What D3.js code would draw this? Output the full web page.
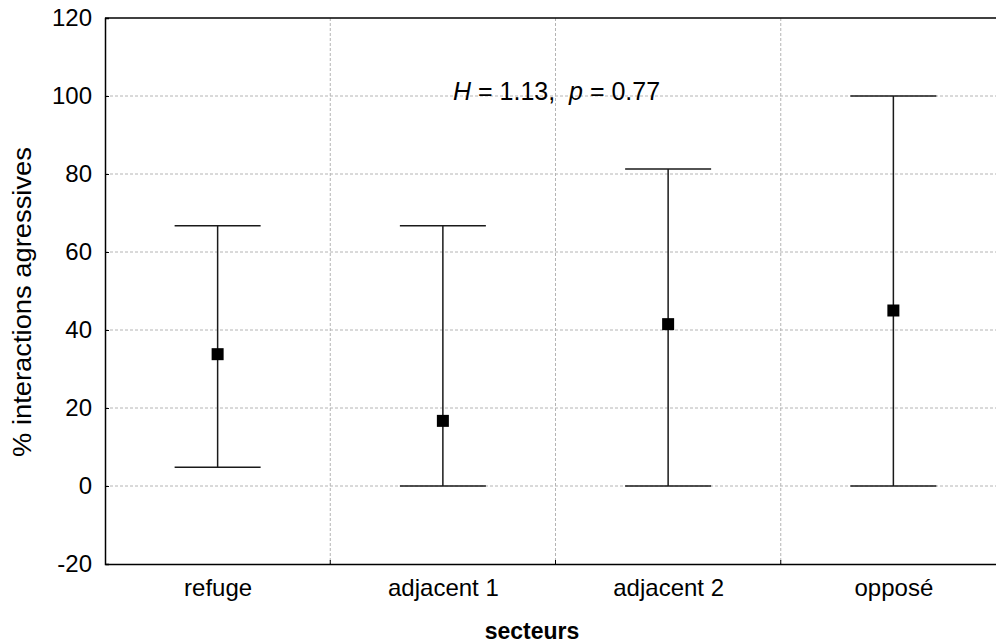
<!DOCTYPE html>
<html><head><meta charset="utf-8">
<script src="https://cdn.jsdelivr.net/npm/d3@7"></script>
<style>body{margin:0;background:#fff}svg{display:block}text{font-family:"Liberation Sans",Arial,sans-serif}</style>
</head><body><svg id="c" width="996" height="644"></svg>
<script>
const categories = ["refuge", "adjacent 1", "adjacent 2", "opposé"];
const means = [33.8, 16.7, 41.5, 45.0];
const lowers = [4.8, 0, 0, 0];
const uppers = [66.7, 66.7, 81.3, 100];
const yTicks = [-20, 0, 20, 40, 60, 80, 100, 120];
const gridY = [0, 20, 40, 60, 80, 100];
const gridX = [1.5, 2.5, 3.5];

const FONT = "Liberation Sans, Arial, sans-serif";
const svg = d3.select("#c");
const x = d3.scaleLinear().domain([0.5, 4.5]).range([105, 1006]);
const y = d3.scaleLinear().domain([-20, 120]).range([564, 18]);
const g = svg.append("g");

// grid
g.selectAll(".gy").data(gridY).join("line")
  .attr("x1", x(0.5)).attr("x2", x(4.5)).attr("y1", d => y(d)).attr("y2", d => y(d))
  .attr("stroke", "#b4b4b4").attr("stroke-dasharray", "3,2").attr("stroke-width", 1);
g.selectAll(".gx").data(gridX).join("line")
  .attr("x1", d => x(d)).attr("x2", d => x(d)).attr("y1", y(120)).attr("y2", y(-20))
  .attr("stroke", "#b4b4b4").attr("stroke-dasharray", "3,2").attr("stroke-width", 1);

// axes
const yAxis = d3.axisLeft(y).tickValues(yTicks).tickSize(-4).tickPadding(13).tickFormat(d => String(d));
const ya = svg.append("g").attr("transform", `translate(${x(0.5)},0)`).call(yAxis);
ya.attr("font-size", null).attr("font-family", null);
ya.select(".domain").attr("stroke", "#000").attr("stroke-width", 1.5);
ya.selectAll(".tick line").attr("stroke", "#000");
ya.selectAll("text").attr("font-size", 24).attr("fill", "#000").style("font-family", FONT);

const xAxis = d3.axisBottom(x).tickValues([1, 2, 3, 4]).tickSize(0).tickPadding(15)
  .tickFormat((d, i) => categories[i]);
const xa = svg.append("g").attr("transform", `translate(0,${y(-20)})`).call(xAxis);
xa.attr("font-size", null).attr("font-family", null);
xa.select(".domain").attr("stroke", "#000").attr("stroke-width", 1.5);
xa.selectAll("text").attr("font-size", 24).attr("fill", "#000").style("font-family", FONT);
xa.selectAll(".mt").data(gridX).join("line")
  .attr("x1", d => x(d)).attr("x2", d => x(d)).attr("y1", 0).attr("y2", -4).attr("stroke", "#000");

// top border
svg.append("line").attr("x1", x(0.5)).attr("x2", x(4.5)).attr("y1", y(120)).attr("y2", y(120))
  .attr("stroke", "#000").attr("stroke-width", 1.5);

// error bars
const data = categories.map((c, i) => ({i: i + 1, m: means[i], lo: lowers[i], hi: uppers[i]}));
const capW = 43;
const eb = svg.append("g");
eb.selectAll(".v").data(data).join("line")
  .attr("x1", d => x(d.i)).attr("x2", d => x(d.i)).attr("y1", d => y(d.lo)).attr("y2", d => y(d.hi))
  .attr("stroke", "#1a1a1a").attr("stroke-width", 1.5);
eb.selectAll(".t").data(data).join("line")
  .attr("x1", d => x(d.i) - capW).attr("x2", d => x(d.i) + capW).attr("y1", d => y(d.hi)).attr("y2", d => y(d.hi))
  .attr("stroke", "#1a1a1a").attr("stroke-width", 1.5);
eb.selectAll(".b").data(data).join("line")
  .attr("x1", d => x(d.i) - capW).attr("x2", d => x(d.i) + capW).attr("y1", d => y(d.lo)).attr("y2", d => y(d.lo))
  .attr("stroke", "#1a1a1a").attr("stroke-width", 1.5);
eb.selectAll("rect").data(data).join("rect")
  .attr("x", d => x(d.i) - 6).attr("y", d => y(d.m) - 6).attr("width", 12).attr("height", 12).attr("fill", "#000");

// annotation
const ann = svg.append("text").attr("x", 453).attr("y", 100).attr("font-size", 25).attr("fill", "#000")
  .style("white-space", "pre").attr("xml:space", "preserve");
ann.append("tspan").attr("font-style", "italic").text("H");
ann.append("tspan").text(" = 1.13,  ");
ann.append("tspan").attr("font-style", "italic").text("p");
ann.append("tspan").text(" = 0.77");

// axis titles
svg.append("text").attr("transform", `translate(31,302) rotate(-90)`).attr("text-anchor", "middle")
  .attr("font-size", 25).attr("fill", "#000").attr("textLength", 310).attr("lengthAdjust", "spacingAndGlyphs")
  .text("% interactions agressives");
svg.append("text").attr("x", 532).attr("y", 639).attr("text-anchor", "middle")
  .attr("font-size", 23).attr("font-weight", "bold").attr("fill", "#000").text("secteurs");
</script></body></html>
